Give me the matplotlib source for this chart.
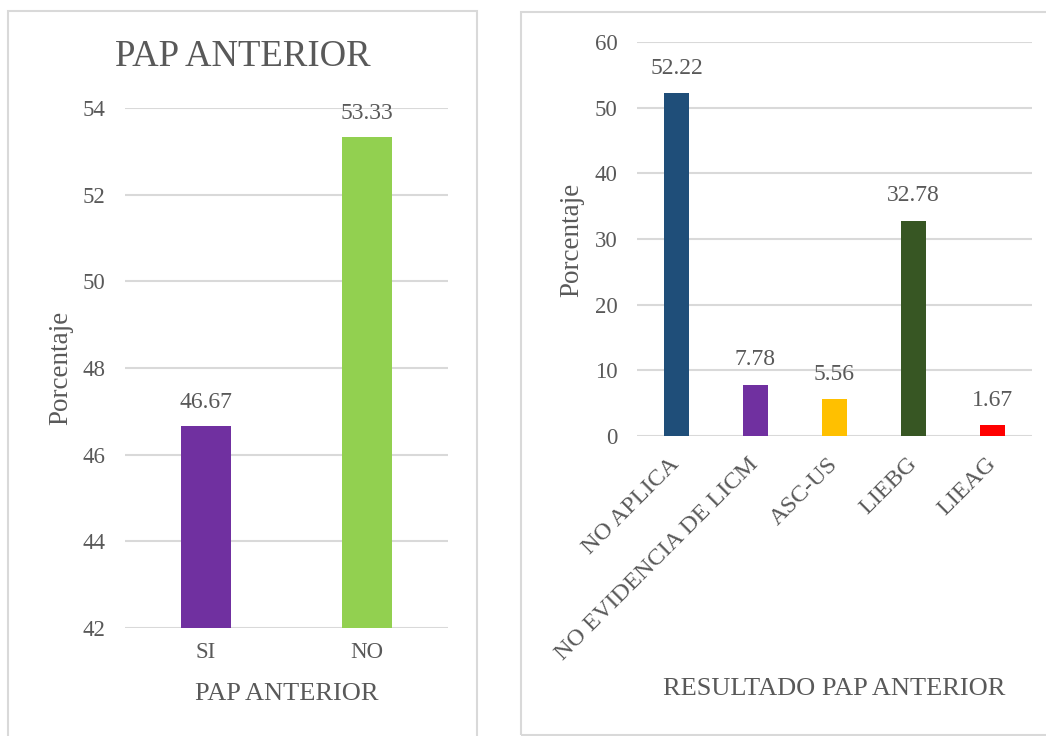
import matplotlib
matplotlib.use("Agg")
import matplotlib.pyplot as plt
from matplotlib.patches import Rectangle

# ---- data ----
left_categories = ["SI", "NO"]
left_values = [46.67, 53.33]
left_colors = ["#7030A0", "#92D050"]

right_categories = ["NO APLICA", "NO EVIDENCIA DE LICM", "ASC-US", "LIEBG", "LIEAG"]
right_values = [52.22, 7.78, 5.56, 32.78, 1.67]
right_colors = ["#1F4E79", "#7030A0", "#FFC000", "#375623", "#FF0000"]

left_title = "PAP ANTERIOR"
left_xlabel = "PAP ANTERIOR"
right_xlabel = "RESULTADO PAP ANTERIOR"
ylabel = "Porcentaje"

plt.rcParams["font.family"] = ["Liberation Serif", "DejaVu Serif"]
TXT = "#595959"
GRID = "#D9D9D9"

W, H = 1046, 736
fig = plt.figure(figsize=(W / 100, H / 100), dpi=100)

def fx(px):
    return px / W

def fy(py):
    return 1 - py / H

# panel borders
fig.patches.append(Rectangle((fx(8), fy(760)), fx(477) - fx(8), fy(11) - fy(760),
                             transform=fig.transFigure, fill=False, edgecolor=GRID, lw=1.5))
fig.patches.append(Rectangle((fx(521), fy(735)), fx(1060) - fx(521), fy(12) - fy(735),
                             transform=fig.transFigure, fill=False, edgecolor=GRID, lw=1.5))

def style(ax):
    for s in ax.spines.values():
        s.set_visible(False)
    ax.yaxis.grid(True, color=GRID, lw=1.5)
    ax.set_axisbelow(True)
    ax.tick_params(axis="both", length=0, colors=TXT, labelsize=16.5)

# ---- left chart ----
axL = fig.add_axes([fx(125), fy(628), fx(448) - fx(125), fy(108) - fy(628)])
style(axL)
xl = range(len(left_categories))
barsL = axL.bar(xl, left_values, width=0.31, color=left_colors, zorder=3)
axL.set_xlim(-0.5, len(left_categories) - 0.5)
axL.set_ylim(42, 54)
axL.set_yticks(range(42, 55, 2))
axL.set_xticks(list(xl))
axL.set_xticklabels(left_categories)
axL.tick_params(axis="y", pad=14)
axL.tick_params(axis="x", pad=10)
for b, v in zip(barsL, left_values):
    axL.annotate(f"{v:.2f}", (b.get_x() + b.get_width() / 2, v), xytext=(0, 17),
                 textcoords="offset points", ha="center", va="center",
                 fontsize=17, color=TXT)
axL.set_ylabel(ylabel, fontsize=19.5, color=TXT)
axL.yaxis.set_label_coords(-0.2, 0.5)
axL.yaxis.label.set_va("center")
axL.set_xlabel(left_xlabel, fontsize=19, color=TXT)
axL.xaxis.set_label_coords(0.5, -0.127)
axL.xaxis.label.set_va("center")
fig.text(fx(243), fy(57), left_title, ha="center", va="center", fontsize=26.5, color=TXT)

# ---- right chart ----
axR = fig.add_axes([fx(637), fy(436), fx(1032) - fx(637), fy(42) - fy(436)])
style(axR)
xr = range(len(right_categories))
barsR = axR.bar(xr, right_values, width=0.32, color=right_colors, zorder=3)
axR.set_xlim(-0.5, len(right_categories) - 0.5)
axR.set_ylim(0, 60)
axR.set_yticks(range(0, 61, 10))
axR.set_xticks(list(xr))
axR.set_xticklabels(right_categories, rotation=45, ha="right", va="center",
                    rotation_mode="anchor", fontsize=17.5)
axR.tick_params(axis="y", pad=14)
axR.tick_params(axis="x", pad=18)
for b, v in zip(barsR, right_values):
    axR.annotate(f"{v:.2f}", (b.get_x() + b.get_width() / 2, v), xytext=(0, 18),
                 textcoords="offset points", ha="center", va="center",
                 fontsize=17, color=TXT)
axR.set_ylabel(ylabel, fontsize=19.5, color=TXT)
axR.yaxis.set_label_coords(-0.165, 0.497)
axR.yaxis.label.set_va("center")
axR.set_xlabel(right_xlabel, fontsize=19, color=TXT)
axR.xaxis.set_label_coords(0.5, -0.642)
axR.xaxis.label.set_va("center")

fig.savefig("out.png", dpi=100)
